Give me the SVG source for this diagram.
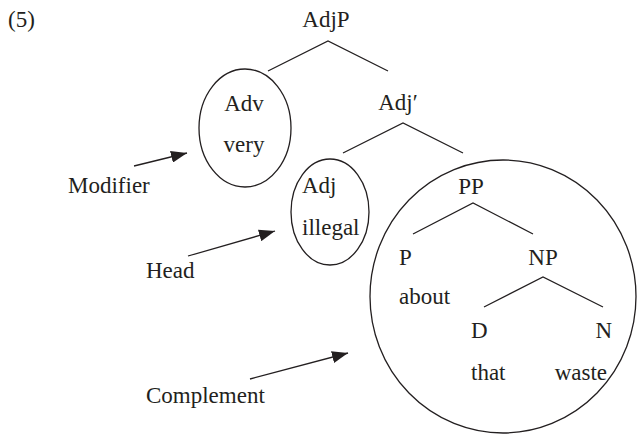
<svg xmlns="http://www.w3.org/2000/svg" width="637" height="434" viewBox="0 0 637 434">
<defs>
<style>
text{font-size:23px;fill:#231f20}
.l{stroke:#231f20;stroke-width:1.3;fill:none}
.o{stroke:#231f20;stroke-width:1.3;fill:none}
</style>
<marker id="a" viewBox="0 0 16 12" refX="16" refY="6" markerWidth="16" markerHeight="12" markerUnits="userSpaceOnUse" orient="auto">
<path d="M0,0 L16,6 L0,12 z" fill="#231f20"/>
</marker>
</defs>
<rect width="637" height="434" fill="#fff"/>
<g font-family="'Liberation Serif', 'Times New Roman', Tinos, 'DejaVu Serif', serif">
<text x="8" y="27">(5)</text>
<g id="connectors">
<path class="l" d="M268,71 L328,41 L388,71"/>
<path class="l" d="M343,153 L403,123 L463,153"/>
<path class="l" d="M413,234 L473,203 L533,234"/>
<path class="l" d="M484,307 L543,277 L603,307"/>
<path class="l" d="M134,166 L187,153" marker-end="url(#a)"/>
<path class="l" d="M188,256 L275,231" marker-end="url(#a)"/>
<path class="l" d="M250,379 L348,353" marker-end="url(#a)"/>
</g>
<g id="n-adjp"><text x="326" y="27" text-anchor="middle">AdjP</text></g>
<g id="n-adv">
<ellipse class="o" cx="245" cy="128" rx="46" ry="59"/>
<text x="244" y="111" text-anchor="middle">Adv</text>
<text x="244" y="152" text-anchor="middle">very</text>
</g>
<g id="n-adjbar"><text x="398" y="110" text-anchor="middle">Adj′</text></g>
<g id="n-adj">
<ellipse class="o" cx="330" cy="212" rx="39" ry="53"/>
<text x="302" y="193">Adj</text>
<text x="302" y="235">illegal</text>
</g>
<g id="n-pp">
<ellipse class="o" cx="503" cy="296.5" rx="133" ry="136.5"/>
<text x="471" y="194" text-anchor="middle">PP</text>
</g>
<g id="n-p"><text x="399" y="265">P</text><text x="399" y="304">about</text></g>
<g id="n-np"><text x="543" y="265" text-anchor="middle">NP</text></g>
<g id="n-d"><text x="471" y="338">D</text><text x="471" y="380">that</text></g>
<g id="n-n"><text x="612" y="338" text-anchor="end">N</text><text x="607" y="380" text-anchor="end">waste</text></g>
<g id="l-modifier"><text x="68" y="193">Modifier</text></g>
<g id="l-head"><text x="146" y="278">Head</text></g>
<g id="l-complement"><text x="146" y="403">Complement</text></g>
</g>
</svg>
